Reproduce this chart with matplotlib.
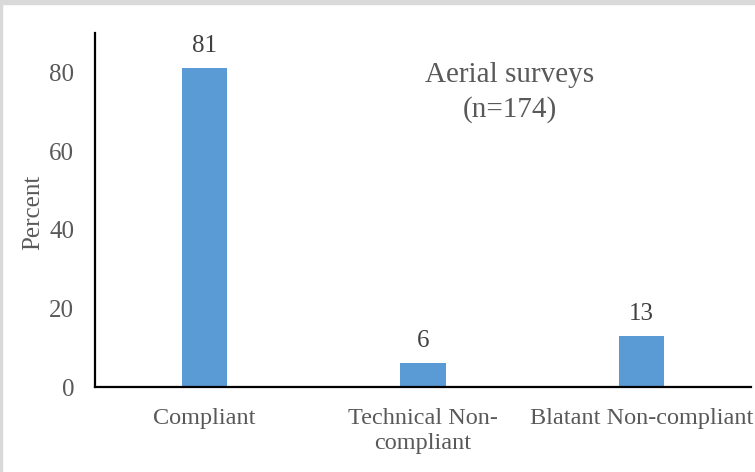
import matplotlib.pyplot as plt
from matplotlib.patches import Rectangle

categories = ["Compliant", "Technical Non-\ncompliant", "Blatant Non-compliant"]
percent = [81, 6, 13]
yticks = [0, 20, 40, 60, 80]

plt.rcParams['font.family'] = ['Liberation Serif', 'DejaVu Serif']
text_col = '#595959'

fig = plt.figure(figsize=(7.55, 4.72), dpi=100)
# light frame around the chart area
fig.patches.append(Rectangle((0, 0.991), 1, 0.009, transform=fig.transFigure,
                             color='#d9d9d9', zorder=0))
fig.patches.append(Rectangle((0, 0), 0.003, 1, transform=fig.transFigure,
                             color='#d9d9d9', zorder=0))

ax = fig.add_axes([95 / 755, 1 - 387 / 472, (751 - 95) / 755, (387 - 33) / 472])
x = list(range(len(categories)))
bars = ax.bar(x, percent, width=0.206, color='#5b9bd5', zorder=2)
for b, v in zip(bars, percent):
    ax.text(b.get_x() + b.get_width() / 2, v + 2.8, f"{v}", ha='center', va='bottom',
            fontsize=18, color='#404040')

ax.set_xlim(-0.5, 2.5)
ax.set_ylim(0, 90)
ax.set_yticks(yticks)
ax.set_xticks(x)
ax.set_xticklabels(categories, fontsize=17.5, color=text_col, linespacing=1.25)
ax.tick_params(axis='y', length=0, pad=15, labelsize=18, labelcolor=text_col)
ax.tick_params(axis='x', length=0, pad=15)
for s in ['top', 'right']:
    ax.spines[s].set_visible(False)
for s in ['left', 'bottom']:
    ax.spines[s].set_linewidth(1.6)
    ax.spines[s].set_color('black')
ax.set_ylabel("Percent", fontsize=18, color=text_col)
ax.yaxis.set_label_coords(-0.078, 0.494)

ax.text(0.632, 0.832, "Aerial surveys\n(n=174)", transform=ax.transAxes, ha='center',
        va='center', fontsize=21, color=text_col, linespacing=1.35)

fig.savefig("out.png", dpi=100)
